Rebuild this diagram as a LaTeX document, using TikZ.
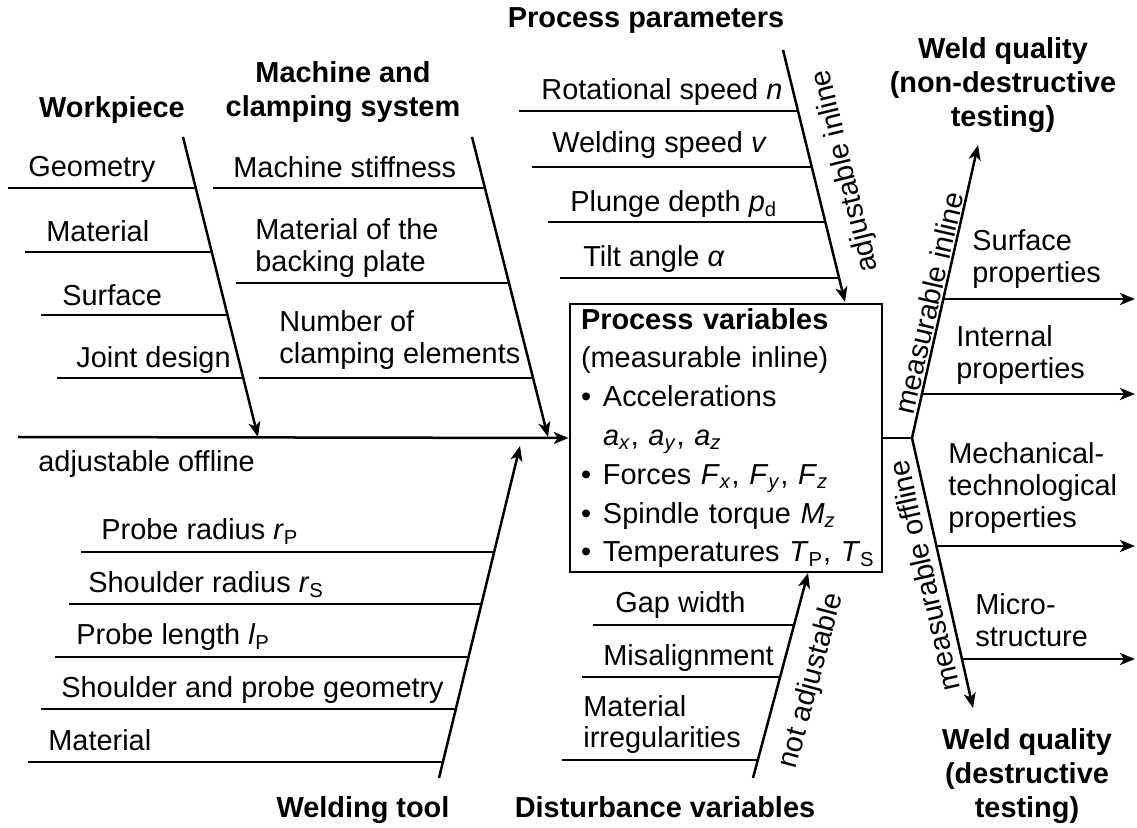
\documentclass[tikz,border=0pt]{standalone}
\usepackage{fontspec}
\setmainfont{Liberation Sans}
\usetikzlibrary{arrows.meta}

\newcommand\pvbullet{\makebox[11pt][l]{\textbullet}}

\begin{document}
\begin{tikzpicture}[x=0.5pt,y=-0.5pt,
    every node/.style={font=\fontsize{14.45}{16}\selectfont,inner sep=0pt},
    head/.style={font=\fontsize{14.45}{17}\selectfont\bfseries,align=center,anchor=base},
    tag/.style={anchor=base west,align=left},
    bone/.style={line width=1.25pt,-{Stealth[length=7.5pt,width=6pt,inset=2pt]}},
    rib/.style={line width=1.25pt}]
\useasboundingbox (0,0) rectangle (1137,828);

% headings (base = last line)
\node[head] (wp) at (112,118) {Workpiece};
\node[head] (mc) at (343,117) {Machine and\\clamping system};
\node[head] (pp) at (646,28) {Process parameters};
\node[head] (wqn) at (1003,127) {Weld quality\\(non-destructive\\testing)};
\node[head] (wqd) at (1027,818) {Weld quality\\(destructive\\testing)};
\node[head] (wt) at (363,818) {Welding tool};
\node[head] (dv) at (665,818) {Disturbance variables};

% process variables box
\node[draw,line width=1.25pt,minimum width=156pt,minimum height=134pt,
      text width=145pt,inner xsep=5.5pt,align=left,
      font=\fontsize{14.45}{19.4}\selectfont] (pv) at (726,438)
  {\textbf{Process variables}\\
   (measurable inline)\\
   \pvbullet Accelerations\\
   \hspace*{11pt}\textit{a}\textsubscript{\textit{x}}, \textit{a}\textsubscript{\textit{y}}, \textit{a}\textsubscript{\textit{z}}\\
   \pvbullet Forces \textit{F}\textsubscript{\textit{x}}, \textit{F}\textsubscript{\textit{y}}, \textit{F}\textsubscript{\textit{z}}\\
   \pvbullet Spindle torque \textit{M}\textsubscript{\textit{z}}\\
   \mbox{\pvbullet Temperatures \textit{T}\textsubscript{P}, \textit{T}\textsubscript{S}}};

% spine
\coordinate (spL) at (18,437);
\coordinate (jn) at (912,438);
\draw[bone] (spL) -- (pv.west);
\draw[rib] (pv.east) -- (jn);

% workpiece
\coordinate (wpT) at (183,137);
\coordinate (wpB) at (258,437);
\draw[bone] (wpT) -- (wpB);
\coordinate (wp1a) at (8,188);   \coordinate (wp1b) at (196,188);
\coordinate (wp2a) at (25,252);  \coordinate (wp2b) at (212,252);
\coordinate (wp3a) at (41,315);  \coordinate (wp3b) at (228,315);
\coordinate (wp4a) at (57,378);  \coordinate (wp4b) at (243,378);
\draw[rib] (wp1a) -- (wp1b);
\draw[rib] (wp2a) -- (wp2b);
\draw[rib] (wp3a) -- (wp3b);
\draw[rib] (wp4a) -- (wp4b);
\node[tag] (geo) at (28,177) {Geometry};
\node[tag] (mat) at (46,242) {Material};
\node[tag] (surf) at (62,306) {Surface};
\node[tag] (joint) at (76,368) {Joint design};

% machine and clamping system
\coordinate (mcT) at (472,137);
\coordinate (mcB) at (548,437);
\draw[bone] (mcT) -- (mcB);
\coordinate (mc1a) at (213,188); \coordinate (mc1b) at (485,188);
\coordinate (mc2a) at (236,283); \coordinate (mc2b) at (509,283);
\coordinate (mc3a) at (259,378); \coordinate (mc3b) at (533,378);
\draw[rib] (mc1a) -- (mc1b);
\draw[rib] (mc2a) -- (mc2b);
\draw[rib] (mc3a) -- (mc3b);
\node[tag] (stiff) at (233,178) {Machine stiffness};
\node[tag] (plate) at (255,272) {Material of the\\backing plate};
\node[tag] (clamp) at (279,364) {Number of\\clamping elements};

% process parameters
\coordinate (ppT) at (783,50);
\coordinate (ppB) at (845,302);
\draw[bone] (ppT) -- (ppB);
\coordinate (pp1a) at (519,111); \coordinate (pp1b) at (798,111);
\coordinate (pp2a) at (532,167); \coordinate (pp2b) at (812,167);
\coordinate (pp3a) at (548,222); \coordinate (pp3b) at (825,222);
\coordinate (pp4a) at (560,278); \coordinate (pp4b) at (839,278);
\draw[rib] (pp1a) -- (pp1b);
\draw[rib] (pp2a) -- (pp2b);
\draw[rib] (pp3a) -- (pp3b);
\draw[rib] (pp4a) -- (pp4b);
\node[tag] (rot) at (541,100) {Rotational speed \textit{n}};
\node[tag] (wspd) at (552,153) {Welding speed \textit{v}};
\node[tag] (plunge) at (570,212) {Plunge depth \textit{p}\textsubscript{d}};
\node[tag] (tilt) at (583,267) {Tilt angle \textit{α}};
\node[rotate=103.8] (ai) at (846,171) {adjustable inline};

% welding tool
\coordinate (wtB) at (439,778);
\coordinate (wtT) at (520,446);
\draw[bone] (wtB) -- (wtT);
\coordinate (wt1a) at (81,552);  \coordinate (wt1b) at (494,552);
\coordinate (wt2a) at (69,604);  \coordinate (wt2b) at (482,604);
\coordinate (wt3a) at (55,657);  \coordinate (wt3b) at (469,657);
\coordinate (wt4a) at (41,709);  \coordinate (wt4b) at (456,709);
\coordinate (wt5a) at (28,762);  \coordinate (wt5b) at (443,762);
\draw[rib] (wt1a) -- (wt1b);
\draw[rib] (wt2a) -- (wt2b);
\draw[rib] (wt3a) -- (wt3b);
\draw[rib] (wt4a) -- (wt4b);
\draw[rib] (wt5a) -- (wt5b);
\node[tag] (offl) at (38,472) {adjustable offline};
\node[tag] (prad) at (101,540) {Probe radius \textit{r}\textsubscript{P}};
\node[tag] (srad) at (88,593) {Shoulder radius \textit{r}\textsubscript{S}};
\node[tag] (plen) at (76,645) {Probe length \textit{l}\textsubscript{P}};
\node[tag] (sgeo) at (61,698) {Shoulder and probe geometry};
\node[tag] (tmat) at (48,751) {Material};

% disturbance variables
\coordinate (dvB) at (753,778);
\coordinate (dvT) at (808,573);
\draw[bone] (dvB) -- (dvT);
\coordinate (dv1a) at (593,625); \coordinate (dv1b) at (794,625);
\coordinate (dv2a) at (582,677); \coordinate (dv2b) at (780,677);
\coordinate (dv3a) at (562,760); \coordinate (dv3b) at (758,760);
\draw[rib] (dv1a) -- (dv1b);
\draw[rib] (dv2a) -- (dv2b);
\draw[rib] (dv3a) -- (dv3b);
\node[tag] (gap) at (615,613) {Gap width};
\node[tag] (misal) at (603,666) {Misalignment};
\node[tag] (irreg) at (583,748) {Material\\irregularities};
\node[rotate=75] (na) at (812,681) {not adjustable};

% weld quality
\coordinate (ndT) at (978,145);
\coordinate (dtB) at (973,708);
\draw[bone] (jn) -- (ndT);
\draw[bone] (jn) -- (dtB);
\coordinate (wq1a) at (943,299); \coordinate (wq1b) at (1135,299);
\coordinate (wq2a) at (922,394); \coordinate (wq2b) at (1135,394);
\coordinate (wq3a) at (936,546); \coordinate (wq3b) at (1135,546);
\coordinate (wq4a) at (962,659); \coordinate (wq4b) at (1135,659);
\draw[bone] (wq1a) -- (wq1b);
\draw[bone] (wq2a) -- (wq2b);
\draw[bone] (wq3a) -- (wq3b);
\draw[bone] (wq4a) -- (wq4b);
\node[tag] (sprop) at (972,283) {Surface\\properties};
\node[tag] (iprop) at (956,379) {Internal\\properties};
\node[tag] (mprop) at (948,528) {Mechanical-\\technological\\properties};
\node[tag] (micro) at (975,647) {Micro-\\structure};
\node[rotate=77] (mi) at (929,303) {measurable inline};
\node[rotate=102.8] (mo) at (924,576) {measurable offline};

\end{tikzpicture}
\end{document}
